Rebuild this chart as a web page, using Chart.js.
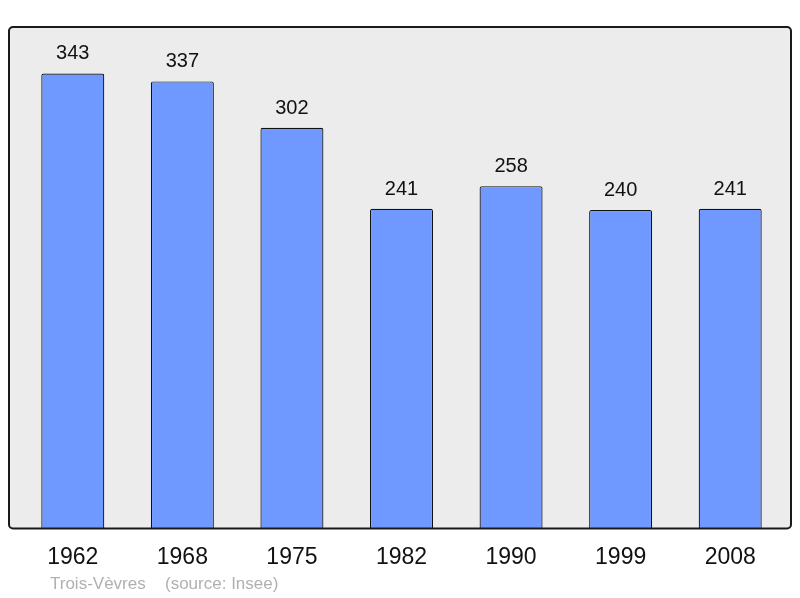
<!DOCTYPE html>
<html>
<head>
<meta charset="utf-8">
<script src="https://cdn.jsdelivr.net/npm/chart.js@4.4.0/dist/chart.umd.min.js"></script>
<style>
  html, body { margin: 0; padding: 0; background: #fff; }
  #wrap { width: 800px; height: 598px; }
</style>
</head>
<body>
<div id="wrap"><canvas id="popChart" width="800" height="598"></canvas></div>
<script>
// Population data (Insee)
const years = ['1962', '1968', '1975', '1982', '1990', '1999', '2008'];
const population = [343, 337, 302, 241, 258, 240, 241];
const placeName = 'Trois-Vèvres';
const sourceText = '(source: Insee)';

const FONT = "'Liberation Sans', Arial, sans-serif";

// Grey panel with dark frame behind the bars
const framePlugin = {
    id: 'frame',
    beforeDatasetsDraw(chart) {
        const { ctx, chartArea: a } = chart;
        ctx.save();
        ctx.fillStyle = '#ececec';
        ctx.beginPath();
        ctx.roundRect(a.left - 9, a.top, a.right - a.left + 15, a.bottom - a.top, 4);
        ctx.fill();
        ctx.restore();
    },
    afterDatasetsDraw(chart) {
        const { ctx, chartArea: a } = chart;
        ctx.save();
        ctx.strokeStyle = '#1a1a1a';
        ctx.lineWidth = 2;
        ctx.beginPath();
        ctx.roundRect(a.left - 9, a.top, a.right - a.left + 15, a.bottom - a.top, 4);
        ctx.stroke();

        // value labels above bars
        const meta = chart.getDatasetMeta(0);
        ctx.fillStyle = '#111';
        ctx.font = '20px ' + FONT;
        ctx.textAlign = 'center';
        ctx.textBaseline = 'alphabetic';
        meta.data.forEach((bar, i) => {
            ctx.fillText(String(population[i]), bar.x, bar.y - 14);
        });

        // source line
        ctx.fillStyle = '#b0b0b0';
        ctx.font = '17px ' + FONT;
        ctx.textAlign = 'left';
        ctx.textBaseline = 'middle';
        ctx.fillText(placeName, 50, 584);
        ctx.fillText(sourceText, 165, 584);
        ctx.restore();
    }
};

const ctx = document.getElementById('popChart').getContext('2d');
const popChart = new Chart(ctx, {
    type: 'bar',
    data: {
        labels: years,
        datasets: [{
            data: population,
            backgroundColor: '#7099ff',
            borderColor: '#111',
            borderWidth: 1.2,
            borderRadius: 2,
            categoryPercentage: 1,
            barPercentage: 0.575
        }]
    },
    options: {
        responsive: false,
        animation: false,
        events: [],
        layout: {
            padding: { left: 18, right: 15, top: 27, bottom: 12 }
        },
        plugins: {
            legend: { display: false },
            tooltip: { enabled: false }
        },
        scales: {
            x: {
                grid: { display: false, drawTicks: false },
                border: { display: false },
                ticks: {
                    color: '#111',
                    padding: 15,
                    font: { family: FONT, size: 23 }
                }
            },
            y: {
                display: false,
                min: 0,
                max: 378
            }
        }
    },
    plugins: [framePlugin]
});
</script>
</body>
</html>
